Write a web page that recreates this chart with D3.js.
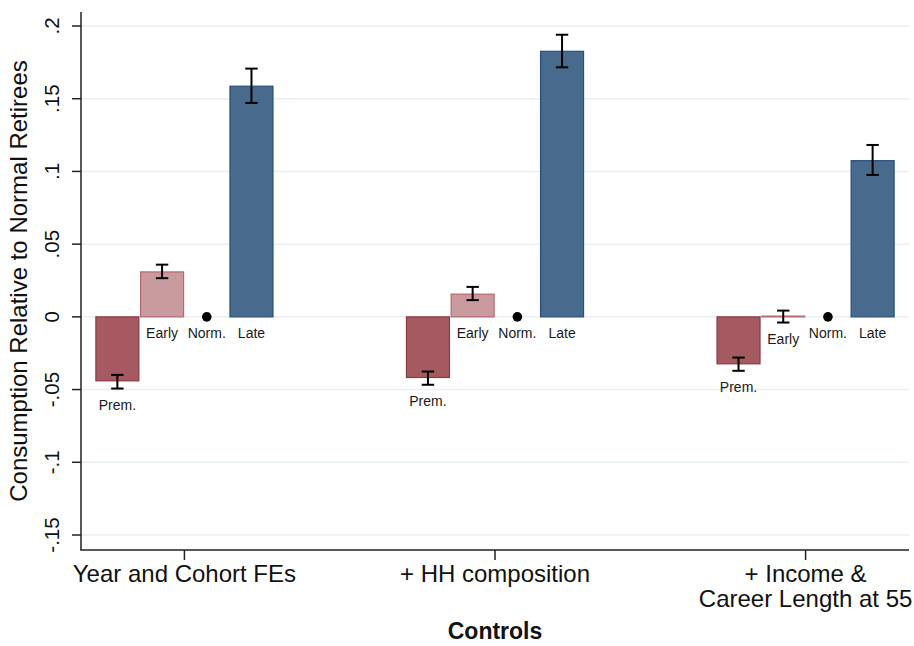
<!DOCTYPE html>
<html><head><meta charset="utf-8">
<script src="https://cdn.jsdelivr.net/npm/d3@7"></script>
<style>
html,body{margin:0;padding:0;background:#fff;}
svg{display:block;font-family:"Liberation Sans",Arial,Helvetica,sans-serif;}
</style></head>
<body><svg id="c" width="914" height="646"></svg>
<script>
const categories = ["Year and Cohort FEs", "+ HH composition", "+ Income &|Career Length at 55"];
const series = ["Prem.", "Early", "Norm.", "Late"];
const premVal = [-0.0440, -0.0417, -0.0323];
const premLo  = [-0.0493, -0.0467, -0.0371];
const premHi  = [-0.0399, -0.0376, -0.0280];
const earlyVal = [0.0309, 0.0156, 0.0005];
const earlyLo  = [0.0266, 0.0115, -0.0039];
const earlyHi  = [0.0359, 0.0206, 0.0043];
const normVal = [0, 0, 0];
const lateVal = [0.1586, 0.1826, 0.1074];
const lateLo  = [0.1471, 0.1716, 0.0976];
const lateHi  = [0.1707, 0.1940, 0.1182];
const yTicks = [-0.15, -0.1, -0.05, 0, 0.05, 0.1, 0.15, 0.2];
const yTickLabels = ["-.15", "-.1", "-.05", "0", ".05", ".1", ".15", ".2"];
const yTitle = "Consumption Relative to Normal Retirees";
const xTitle = "Controls";

const styles = {
  "Prem.": {fill: "#a45a60", stroke: "#8e3a44"},
  "Early": {fill: "#c99a9e", stroke: "#b5686f"},
  "Late":  {fill: "#486a8c", stroke: "#274f7c"}
};

const rows = [];
categories.forEach((c, i) => {
  rows.push({cat: c, s: "Prem.", v: premVal[i], lo: premLo[i], hi: premHi[i]});
  rows.push({cat: c, s: "Early", v: earlyVal[i], lo: earlyLo[i], hi: earlyHi[i]});
  rows.push({cat: c, s: "Norm.", v: normVal[i], lo: null, hi: null});
  rows.push({cat: c, s: "Late", v: lateVal[i], lo: lateLo[i], hi: lateHi[i]});
});

const svg = d3.select("#c");
const L = 81, R = 909, T = 12, B = 550;
const y = d3.scaleLinear().domain([-0.15, 0.2]).range([535, 26]);
const x = d3.scalePoint().domain(categories).range([L, R]).padding(0.333);
const xs = d3.scaleBand().domain(series).range([-89.4, 89.4]);
const bw = 44;

// grid
svg.append("g").selectAll("line").data(yTicks).join("line")
  .attr("x1", L).attr("x2", R)
  .attr("y1", d => y(d)).attr("y2", d => y(d))
  .attr("stroke", "#e8f0f2").attr("stroke-width", 1.5);

// bars
const barRows = rows.filter(r => r.s !== "Norm.");
svg.append("g").selectAll("rect").data(barRows).join("rect")
  .attr("x", d => x(d.cat) + xs(d.s) + xs.bandwidth()/2 - bw/2 + 0.5)
  .attr("width", bw - 1)
  .attr("y", d => Math.min(y(d.v), y(0)))
  .attr("height", d => Math.max(Math.abs(y(d.v) - y(0)), 0.01))
  .attr("fill", d => styles[d.s].fill)
  .attr("stroke", d => styles[d.s].stroke)
  .attr("stroke-width", 1.2);

// norm dots
svg.append("g").selectAll("circle").data(rows.filter(r => r.s === "Norm.")).join("circle")
  .attr("cx", d => x(d.cat) + xs(d.s) + xs.bandwidth()/2)
  .attr("cy", d => y(d.v))
  .attr("r", 4.8).attr("fill", "#000");

// error bars
const eb = svg.append("g").attr("stroke", "#000").attr("stroke-width", 2).attr("fill", "none");
barRows.forEach(d => {
  const cx = x(d.cat) + xs(d.s) + xs.bandwidth()/2;
  eb.append("line").attr("x1", cx).attr("x2", cx).attr("y1", y(d.lo)).attr("y2", y(d.hi));
  eb.append("line").attr("x1", cx - 6.2).attr("x2", cx + 6.2).attr("y1", y(d.lo)).attr("y2", y(d.lo));
  eb.append("line").attr("x1", cx - 6.2).attr("x2", cx + 6.2).attr("y1", y(d.hi)).attr("y2", y(d.hi));
});

// bar labels
svg.append("g").selectAll("text").data(rows).join("text")
  .attr("x", d => x(d.cat) + xs(d.s) + xs.bandwidth()/2)
  .attr("y", d => y(Math.min(0, d.lo == null ? 0 : d.lo, d.v)) + 21)
  .attr("text-anchor", "middle")
  .attr("font-size", 14).attr("fill", "#1a1a1a")
  .text(d => d.s);

// axes lines
svg.append("line").attr("x1", L).attr("x2", L).attr("y1", T).attr("y2", B)
  .attr("stroke", "#222").attr("stroke-width", 1.5);
svg.append("line").attr("x1", L - 0.75).attr("x2", R).attr("y1", B).attr("y2", B)
  .attr("stroke", "#222").attr("stroke-width", 1.5);

// y ticks
svg.append("g").selectAll("line").data(yTicks).join("line")
  .attr("x1", L - 9).attr("x2", L).attr("y1", d => y(d)).attr("y2", d => y(d))
  .attr("stroke", "#222").attr("stroke-width", 1.5);
svg.append("g").selectAll("text").data(yTicks).join("text")
  .attr("transform", d => `translate(59,${y(d)}) rotate(-90)`)
  .attr("text-anchor", "middle").attr("font-size", 20.5).attr("fill", "#111")
  .text((d, i) => yTickLabels[i]);

// x ticks
svg.append("g").selectAll("line").data(categories).join("line")
  .attr("x1", d => x(d)).attr("x2", d => x(d)).attr("y1", B).attr("y2", B + 10)
  .attr("stroke", "#222").attr("stroke-width", 1.5);
const xl = svg.append("g").selectAll("text").data(categories).join("text")
  .attr("text-anchor", "middle").attr("font-size", 24).attr("fill", "#111")
  .attr("transform", d => `translate(${x(d)},0)`);
xl.each(function(d) {
  const parts = d.split("|");
  d3.select(this).selectAll("tspan").data(parts).join("tspan")
    .attr("x", 0).attr("y", (p, i) => 582 + i * 25).text(p => p);
});

// titles
svg.append("text").attr("transform", `translate(27,${(T + B) / 2}) rotate(-90)`)
  .attr("text-anchor", "middle").attr("font-size", 24).attr("fill", "#111").text(yTitle);
svg.append("text").attr("x", (L + R) / 2).attr("y", 639)
  .attr("text-anchor", "middle").attr("font-size", 23).attr("font-weight", "bold").attr("fill", "#111").text(xTitle);
</script></body></html>
